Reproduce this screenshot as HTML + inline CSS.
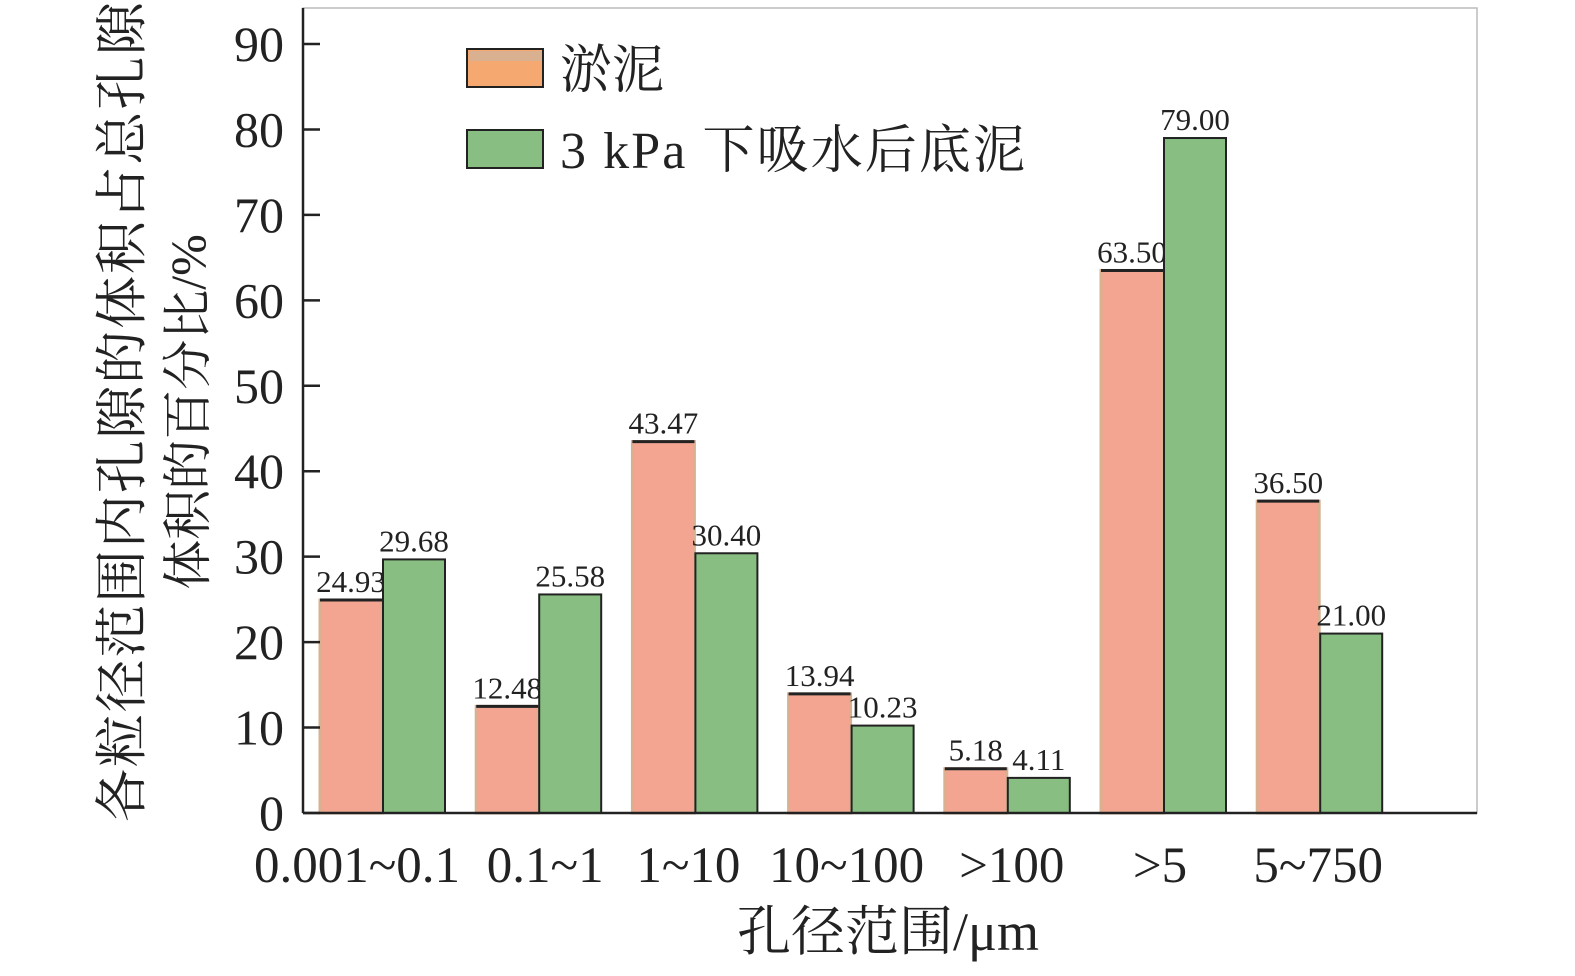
<!DOCTYPE html>
<html><head><meta charset="utf-8"><style>
body{margin:0;background:#fff}
svg text{font-family:"Liberation Serif","Noto Serif CJK SC",serif;fill:#222}
</style></head><body>
<svg id="chart" width="1575" height="971" xmlns="http://www.w3.org/2000/svg">
<rect x="303" y="8" width="1174" height="805" fill="none" stroke="#bbb" stroke-width="1.5"/>
<g id="bars"></g><g id="axes"></g>
<g>
<rect x="467" y="49" width="76" height="38" fill="#f5a870" stroke="#222" stroke-width="2"/>
<rect x="469" y="51" width="72" height="10" fill="#d9b090"/>
<text x="560" y="88" font-size="52">淤泥</text>
<rect x="467" y="130" width="76" height="38" fill="#88be82" stroke="#222" stroke-width="2"/>
<text x="560" y="168" font-size="52" textLength="465">3 kPa 下吸水后底泥</text>
</g>
<text x="888" y="950" font-size="54" text-anchor="middle">孔径范围/μm</text>
<text transform="translate(140,412) rotate(-90)" font-size="53" text-anchor="middle" textLength="820">各粒径范围内孔隙的体积占总孔隙</text>
<text transform="translate(205,412) rotate(-90)" font-size="50" text-anchor="middle">体积的百分比/%</text>
</svg>
<script>
const categories=["0.001~0.1","0.1~1","1~10","10~100",">100",">5","5~750"];
const siltValues=[24.93,12.48,43.47,13.94,5.18,63.50,36.50];
const sedimentValues=[29.68,25.58,30.40,10.23,4.11,79.00,21.00];
const yTicks=[0,10,20,30,40,50,60,70,80,90];
const NS="http://www.w3.org/2000/svg";
const y0=813,pxPer=85.44;
const yScale=v=>y0-v*pxPer/10;
const xScale=i=>320+i*156.2;
const bw=62;
const labelShift=[-25,7,-6,-4,5,-3,-1];
const bars=document.getElementById('bars'),axes=document.getElementById('axes');
function mk(tag,attrs,parent){const e=document.createElementNS(NS,tag);for(const k in attrs)e.setAttribute(k,attrs[k]);parent.appendChild(e);return e;}
categories.forEach((c,i)=>{
  const x=xScale(i);
  let y=yScale(siltValues[i]);
  let r=mk('rect',{x:x,y:y,width:bw,height:y0-y,fill:'#f3a592',stroke:'#d9b090','stroke-width':3},bars);
  
  
  let l=mk('line',{x1:x,y1:y,x2:x+bw,y2:y,stroke:'#222','stroke-width':3},bars);
  
  
  let t=mk('text',{x:x+bw/2,y:y-8,'font-size':31,'text-anchor':'middle'},bars);t.textContent=siltValues[i].toFixed(2);
  
  
  const x2=x+bw+1;
  y=yScale(sedimentValues[i]);
  r=mk('rect',{x:x2,y:y,width:bw,height:y0-y,fill:'#88be82',stroke:'#222','stroke-width':2},bars);
  
  
  t=mk('text',{x:x2+bw/2,y:y-8,'font-size':31,'text-anchor':'middle'},bars);t.textContent=sedimentValues[i].toFixed(2);
  
  
  t=mk('text',{x:x+bw+labelShift[i],y:882,'font-size':51,'text-anchor':'middle'},axes);t.textContent=c;
  
  
});
let a=mk('line',{x1:303,y1:8,x2:303,y2:y0,stroke:'#222','stroke-width':2.5},axes);


a=mk('line',{x1:303,y1:y0,x2:1477,y2:y0,stroke:'#222','stroke-width':2.5},axes);


yTicks.forEach(v=>{
  const y=yScale(v);
  let l=mk('line',{x1:303,y1:y,x2:320,y2:y,stroke:'#222','stroke-width':2.5},axes);
  
  
  let t=mk('text',{x:284,y:y+17,'font-size':50,'text-anchor':'end'},axes);t.textContent=v;
  
  
});
</script>
</body></html>
